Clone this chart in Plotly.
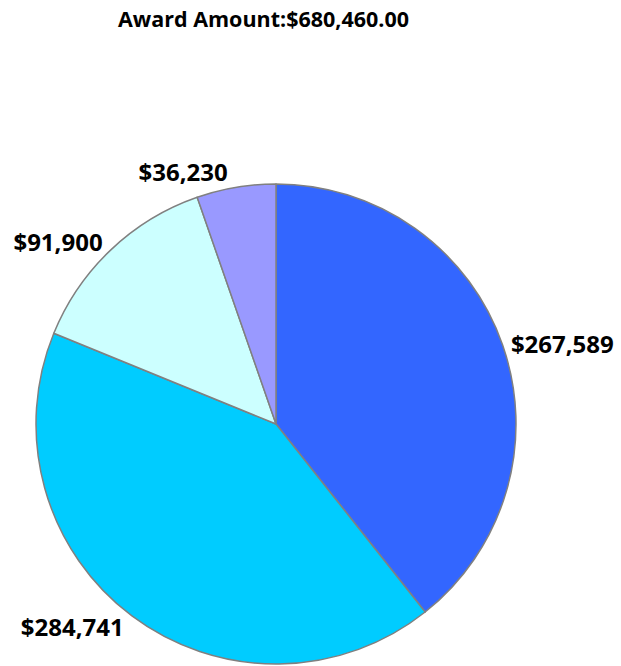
import plotly.graph_objects as go

categories = ["A", "B", "C", "D"]
values = [267589, 284741, 91900, 36230]
colors = ["#3366FF", "#00CCFF", "#CCFFFF", "#9999FF"]
title_text = "Award Amount:$680,460.00"

W, H = 621, 666
cx, cy, r = 276, 424, 240

fig = go.Figure(go.Pie(
    labels=categories,
    values=values,
    sort=False,
    direction="clockwise",
    rotation=0,
    marker=dict(colors=colors, line=dict(color="#808080", width=1.5)),
    texttemplate="$%{value:,.0f}",
    textposition="outside",
    textfont=dict(family="Open Sans", size=24, color="#000000", weight="bold"),
    hoverinfo="skip",
    showlegend=False,
    automargin=False,
    domain=dict(x=[(cx - r) / W, (cx + r) / W], y=[(H - cy - r) / H, (H - cy + r) / H]),
))

fig.update_layout(
    width=W, height=H,
    margin=dict(l=0, r=0, t=0, b=0),
    paper_bgcolor="white",
    plot_bgcolor="white",
    title=dict(text=title_text, x=118 / W, xanchor="left", y=1 - 19 / H, yanchor="middle",
               font=dict(family="Open Sans", size=21.5, color="#000000", weight="bold")),
)

fig.write_html("out.html", config={"displayModeBar": False},
               post_script="document.body.style.margin='0';")
